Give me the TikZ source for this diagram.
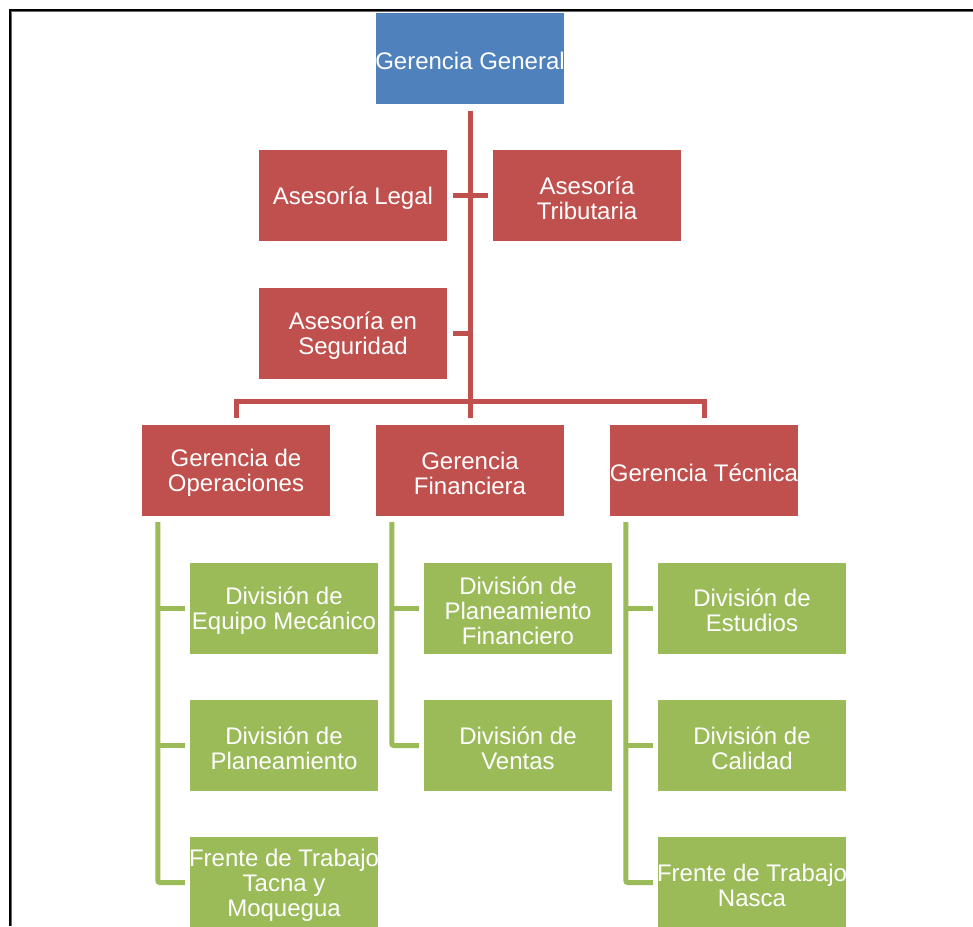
\documentclass[tikz,border=0pt]{standalone}
\usepackage{fontspec}
\setmainfont{Liberation Sans}
\definecolor{cblue}{HTML}{4F81BD}
\definecolor{cred}{HTML}{C0504D}
\definecolor{cgreen}{HTML}{9BBB59}
\tikzset{
  box/.style={rectangle, minimum width=188pt, minimum height=91pt, inner sep=0pt},
  boxtext/.style={inner sep=0pt, text=white, align=center, font=\fontsize{24}{25}\selectfont},
  bluebox/.style={box, fill=cblue},
  redbox/.style={box, fill=cred},
  greenbox/.style={box, fill=cgreen},
  redline/.style={draw=cred, line width=5pt},
  greenline/.style={draw=cgreen, line width=5pt},
}
\newcommand{\orgbox}[4]{%
  \node[#3] (#1) at #2 {};
  \node[boxtext] (#1-t) at ([yshift=-2.5pt]#1.center) {#4};}
\begin{document}
\begin{tikzpicture}[x=1pt, y=-1pt]
\useasboundingbox (0,0) rectangle (973,926);
\fill[white] (0,0) rectangle (973,926);
\draw[black!60, line width=1.5pt] (11.5,926) -- (11.5,11.5) -- (973,11.5);
\draw[black, line width=2pt] (10,926) -- (10,10) -- (973,10);
% top
\orgbox{gg}{(470,58)}{bluebox}{Gerencia General}
\orgbox{legal}{(353,195.5)}{redbox}{Asesoría Legal}
\orgbox{trib}{(587,195.5)}{redbox}{Asesoría\\Tributaria}
\orgbox{seg}{(353,333.5)}{redbox}{Asesoría en\\Seguridad}
% gerencias
\orgbox{gop}{(236,470.5)}{redbox}{Gerencia de\\Operaciones}
\orgbox{gfin}{(470,470.5)}{redbox}{Gerencia\\Financiera}
\orgbox{gtec}{(704,470.5)}{redbox}{Gerencia Técnica}
% divisions
\orgbox{op1}{(284,608)}{greenbox}{División de\\Equipo Mecánico}
\orgbox{op2}{(284,745.5)}{greenbox}{División de\\Planeamiento}
\orgbox{op3}{(284,882.5)}{greenbox}{Frente de Trabajo\\Tacna y\\Moquegua}
\orgbox{fi1}{(518,608)}{greenbox}{División de\\Planeamiento\\Financiero}
\orgbox{fi2}{(518,745.5)}{greenbox}{División de\\Ventas}
\orgbox{te1}{(752,608)}{greenbox}{División de\\Estudios}
\orgbox{te2}{(752,745.5)}{greenbox}{División de\\Calidad}
\orgbox{te3}{(752,882.5)}{greenbox}{Frente de Trabajo\\Nasca}
% red connectors
\draw[redline] ([yshift=-7pt]gg.south) -- ([yshift=7pt]gfin.north);
\draw[redline] ([xshift=6pt]legal.east) -- ([xshift=-5pt]trib.west);
\draw[redline] ([xshift=6pt]seg.east) -- (seg.east -| gg.south);
\draw[redline] ([yshift=7pt]gop.north) -- ([yshift=23pt]gop.north) -| ([yshift=7pt]gtec.north);
% green connectors
\coordinate (opx) at ([xshift=16pt,yshift=-6pt]gop.south west);
\coordinate (fix) at ([xshift=16pt,yshift=-6pt]gfin.south west);
\coordinate (tex) at ([xshift=16pt,yshift=-6pt]gtec.south west);
\draw[greenline, rounded corners=2pt] (opx) |- ([xshift=-5pt]op3.west);
\draw[greenline] (opx |- op1.west) -- ([xshift=-5pt]op1.west);
\draw[greenline] (opx |- op2.west) -- ([xshift=-5pt]op2.west);
\draw[greenline, rounded corners=2pt] (fix) |- ([xshift=-5pt]fi2.west);
\draw[greenline] (fix |- fi1.west) -- ([xshift=-5pt]fi1.west);
\draw[greenline, rounded corners=2pt] (tex) |- ([xshift=-5pt]te3.west);
\draw[greenline] (tex |- te1.west) -- ([xshift=-5pt]te1.west);
\draw[greenline] (tex |- te2.west) -- ([xshift=-5pt]te2.west);
\end{tikzpicture}
\end{document}
